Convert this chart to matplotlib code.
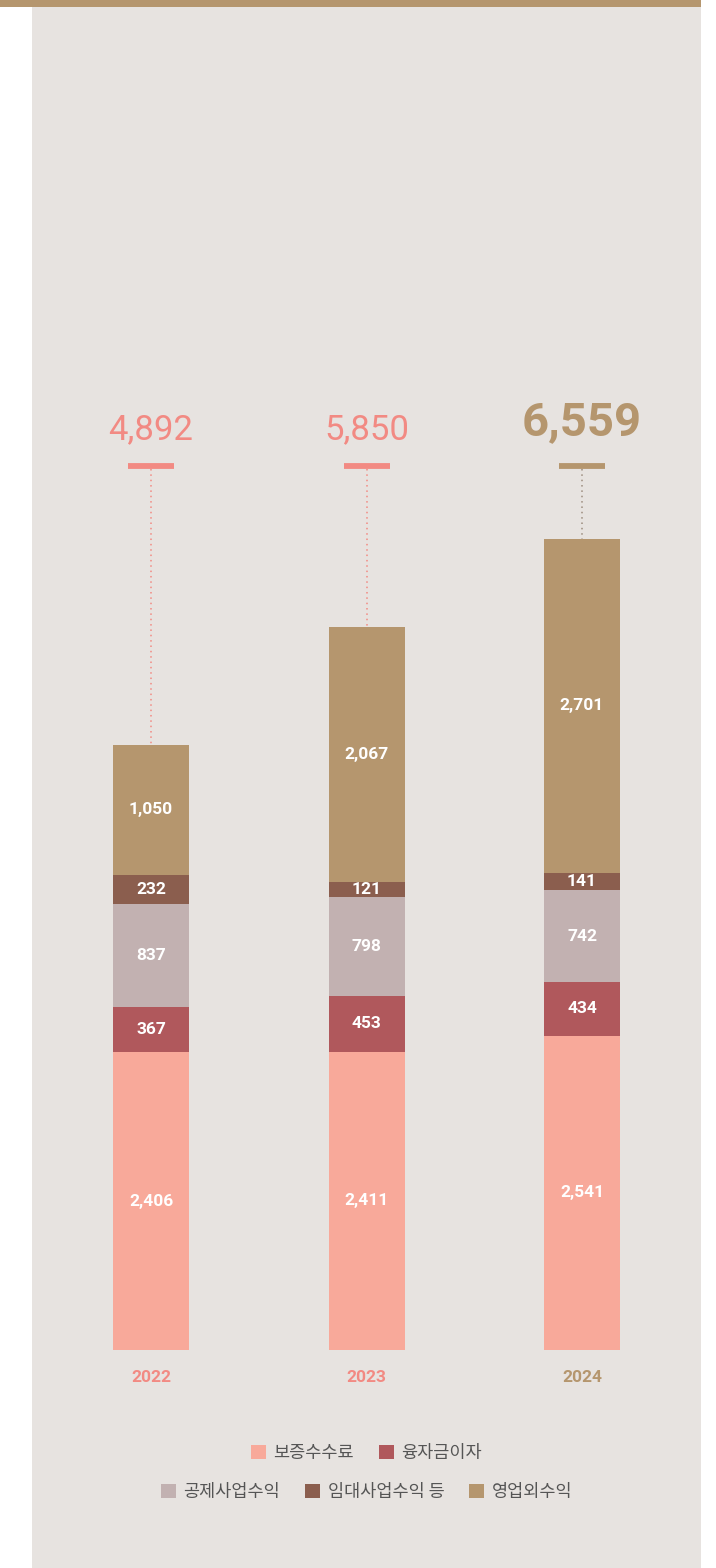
import matplotlib.pyplot as plt
from matplotlib.patches import Rectangle, Patch

years = ['2022', '2023', '2024']
series = ['보증수수료', '융자금이자', '공제사업수익', '임대사업수익 등', '영업외수익']
guarantee = [2406, 2411, 2541]
loan_interest = [367, 453, 434]
mutual_aid = [837, 798, 742]
rental = [232, 121, 141]
non_operating = [1050, 2067, 2701]
totals = [4892, 5850, 6559]

colors = ['#F8A99A', '#B0585C', '#C2B1B1', '#8B5E4E', '#B5966E']
pink = '#F28A83'
gold = '#B5966E'
year_colors = [pink, pink, gold]

plt.rcParams['font.family'] = ['Roboto', 'Noto Sans CJK KR', 'DejaVu Sans']

W, H = 716, 1568
fig = plt.figure(figsize=(W / 100, H / 100), dpi=100, facecolor='white')

# background panel + top stripe
fig.patches.append(Rectangle((32 / W, 0), (701 - 32) / W, 1, transform=fig.transFigure,
                             facecolor='#E7E3E0', edgecolor='none', zorder=-2))
fig.patches.append(Rectangle((0, 1 - 7 / H), 701 / W, 7 / H, transform=fig.transFigure,
                             facecolor='#B5966E', edgecolor='none', zorder=-1))

# axes: y=0 at pixel 1350, 0.12366 px per unit
base_px = 1350
scale = 0.12366
ax = fig.add_axes([0, (H - base_px) / H, 1, base_px / H])
ax.set_zorder(2)
ax.set_facecolor('none')
ax.set_xlim(-151 / 215.5, (W - 151) / 215.5)
ax.set_ylim(0, base_px / scale)
ax.axis('off')


def py(p):
    # pixel row -> data y
    return (base_px - p) / scale


x = list(range(len(years)))
width = 76 / 215.5
stack = [guarantee, loan_interest, mutual_aid, rental, non_operating]
bottom = [0, 0, 0]
for vals, c, name in zip(stack, colors, series):
    ax.bar(x, vals, width, bottom=bottom, color=c, label=name, zorder=2)
    for i, v in enumerate(vals):
        ax.text(i, bottom[i] + v / 2, f'{v:,}', ha='center', va='center',
                color='white', fontsize=12.5, fontweight='bold', zorder=3)
    bottom = [b + v for b, v in zip(bottom, vals)]

for i, t in enumerate(totals):
    c = year_colors[i]
    if i == 2:
        ax.text(i, py(422), f'{t:,}', ha='center', va='center', color=c,
                fontsize=34, fontweight='bold')
        lc = '#9C8C7E'
    else:
        ax.text(i, py(430), f'{t:,}', ha='center', va='center', color=c,
                fontsize=25, fontweight='normal')
        lc = pink
    ax.plot([i - 23 / 215.5, i + 23 / 215.5], [py(465.5)] * 2, color=c, lw=4.2,
            solid_capstyle='butt')
    ax.plot([i, i], [py(469), t], color=lc, lw=1.1, ls=(0, (1, 2.5)))
    ax.text(i, py(1377), years[i], ha='center', va='center', color=c,
            fontsize=12.5, fontweight='bold', clip_on=False)

handles = [Patch(facecolor=c, edgecolor='none') for c in colors]
leg_kw = dict(frameon=False, handlelength=0.85, handleheight=0.85,
              handletextpad=0.45, columnspacing=1.4, labelcolor='#555555',
              loc='center', prop={'family': ['Noto Sans CJK KR'], 'size': 12.6})
fig.legend(handles[:2], series[:2], ncol=2, bbox_to_anchor=(366.5 / W, 1 - 1453 / H), **leg_kw)
fig.legend(handles[2:], series[2:], ncol=3, bbox_to_anchor=(366.5 / W, 1 - 1492 / H), **leg_kw)

fig.savefig('out.png', dpi=100, facecolor=fig.get_facecolor())
